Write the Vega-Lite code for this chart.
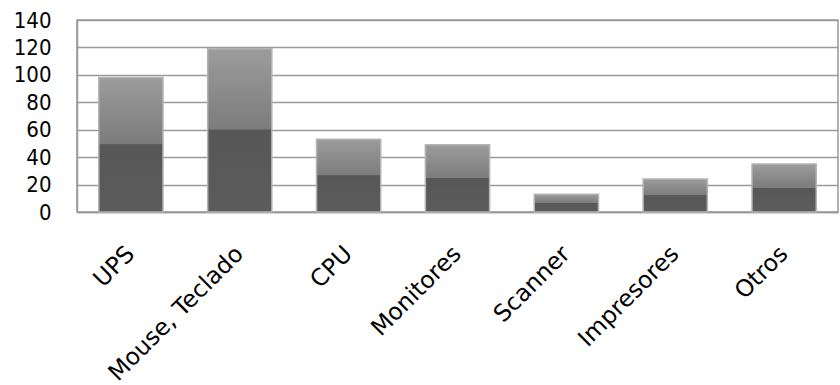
{
  "$schema": "https://vega.github.io/schema/vega-lite/v6.json",
  "width": 761,
  "height": 192,
  "autosize": {"type": "none"},
  "padding": {"left": 77, "top": 20, "right": 2, "bottom": 173},
  "background": "white",
  "config": {
    "view": {"stroke": "#9a9a9a", "strokeWidth": 1.5},
    "axis": {"labelColor": "#000000"}
  },
  "data": {
    "values": [
      {"categoria": "UPS", "valor": 98},
      {"categoria": "Mouse, Teclado", "valor": 119},
      {"categoria": "CPU", "valor": 53},
      {"categoria": "Monitores", "valor": 49},
      {"categoria": "Scanner", "valor": 13},
      {"categoria": "Impresores", "valor": 24},
      {"categoria": "Otros", "valor": 35}
    ]
  },
  "mark": {
    "type": "bar",
    "stroke": "#b4b4b4",
    "strokeWidth": 1.5,
    "fill": {
      "gradient": "linear",
      "x1": 0, "y1": 0, "x2": 0, "y2": 1,
      "stops": [
        {"offset": 0, "color": "#9c9c9c"},
        {"offset": 0.49, "color": "#7c7c7c"},
        {"offset": 0.5, "color": "#575757"},
        {"offset": 1, "color": "#5c5c5c"}
      ]
    }
  },
  "encoding": {
    "x": {
      "field": "categoria",
      "type": "nominal",
      "sort": null,
      "scale": {"paddingInner": 0.41, "paddingOuter": 0.2},
      "axis": {
        "title": null,
        "labelAngle": -45,
        "labelAlign": "right",
        "labelBaseline": "middle",
        "labelFont": "DejaVu Sans",
        "labelFontSize": 23.5,
        "labelPadding": 38,
        "ticks": false,
        "domainColor": "#9a9a9a",
        "domainWidth": 1.5
      }
    },
    "y": {
      "field": "valor",
      "type": "quantitative",
      "scale": {"domain": [0, 140], "nice": false},
      "axis": {
        "title": null,
        "values": [0, 20, 40, 60, 80, 100, 120, 140],
        "labelFont": "DejaVu Sans Condensed, DejaVu Sans",
        "labelFontSize": 22,
        "labelPadding": 26,
        "ticks": false,
        "domainColor": "#9a9a9a",
        "domainWidth": 1.5,
        "gridColor": "#9a9a9a",
        "gridWidth": 1.5,
        "gridOpacity": 1
      }
    }
  }
}
